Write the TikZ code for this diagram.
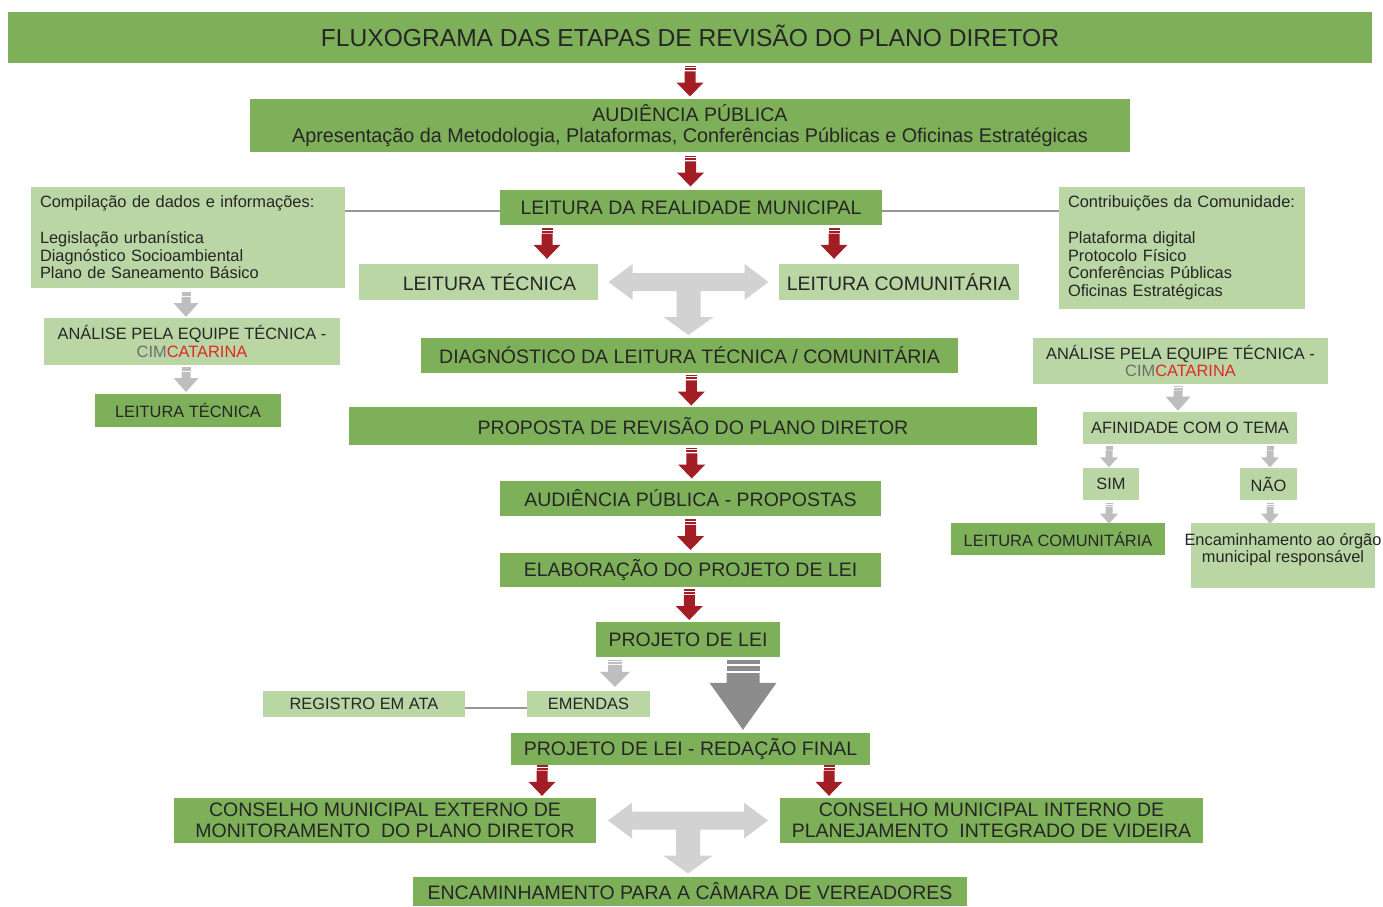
\documentclass[tikz,border=0pt]{standalone}
\usepackage{fontspec}
\setmainfont{Liberation Sans}
\usetikzlibrary{calc,positioning}

\definecolor{darkg}{RGB}{126,176,90}
\definecolor{lightg}{RGB}{186,214,164}
\definecolor{txtgray}{RGB}{38,38,38}
\definecolor{arrowred}{RGB}{163,29,36}
\definecolor{arrowgray}{RGB}{190,190,190}
\definecolor{biggray}{RGB}{140,140,140}
\definecolor{tgray}{RGB}{210,210,210}
\definecolor{linegray}{RGB}{150,150,150}
\definecolor{cimgray}{RGB}{110,110,110}
\definecolor{catred}{RGB}{225,40,40}

\newcommand{\titlefont}{\fontsize{24.6}{27}\selectfont}
\newcommand{\bigfont}{\fontsize{19.5}{21.5}\selectfont}
\newcommand{\smallfont}{\fontsize{16.4}{17.8}\selectfont}

\tikzstyle{box}=[rectangle,inner sep=0pt,text=txtgray,align=center,font=\bigfont]
\tikzstyle{dark}=[box,fill=darkg]
\tikzstyle{light}=[box,fill=lightg]
\tikzstyle{smalltext}=[font=\smallfont]
\tikzstyle{link}=[draw=linegray,line width=2.5pt]

\tikzset{
  pics/blockarr/.style n args={4}{code={
    \fill (-#1,-#4) rectangle (#1,{-0.88*#4}) ;
    \fill (-#1,{-0.81*#4}) rectangle (#1,{-0.69*#4}) ;
    \fill (-#1,{-0.62*#4}) -- (#1,{-0.62*#4}) -- (#1,{#4-#3}) -- (#2,{#4-#3}) -- (0,#4)
      -- (-#2,{#4-#3}) -- (-#1,{#4-#3}) -- cycle ;
  }},
  pics/redarrow/.style={code={\pic[color=arrowred] {blockarr={5.5}{13.5}{14}{15.5}};}},
  pics/grayarrow/.style={code={\pic[color=arrowgray] {blockarr={4.5}{12.5}{14}{12.5}};}},
  pics/tinyarrow/.style={code={\pic[color=arrowgray] {blockarr={3.5}{9}{10}{10.5}};}},
  pics/tarrow/.style={code={
    \fill[tgray] (-80,0) -- (-56,-18) -- (-56,-9) -- (56,-9) -- (56,-18) -- (80,0) -- (56,18)
      -- (56,9) -- (12,9) -- (12,35) -- (25,35) -- (0,53) -- (-25,35) -- (-12,35) -- (-12,9)
      -- (-56,9) -- (-56,18) -- cycle ;
  }}
}

\begin{document}
\begin{tikzpicture}[x=1pt,y=-1pt]
\useasboundingbox (0,0) rectangle (1383,906) ;

\node (title) [dark,font=\titlefont,text height=17.7pt,text depth=0pt,minimum width=1364,minimum height=51] at (690,37.5) {FLUXOGRAMA DAS ETAPAS DE REVISÃO DO PLANO DIRETOR} ;
\node (aud1) [dark,minimum width=880,minimum height=53] at (690,125.5) {AUDIÊNCIA PÚBLICA\\{\fontsize{19.8}{21.5}\selectfont Apresentação da Metodologia, Plataformas, Conferências Públicas e Oficinas Estratégicas}} ;
\node (real) [dark,minimum width=382,minimum height=35] at (691,207.5) {LEITURA DA REALIDADE MUNICIPAL} ;

\node (comp) [light,smalltext,align=left,text width=296,minimum width=314,minimum height=101] at (188,237.5) {Compilação de dados e informações:\\[17.8pt]Legislação urbanística\\Diagnóstico Socioambiental\\Plano de Saneamento Básico} ;
\node (contrib) [light,smalltext,align=left,text width=228,minimum width=246,minimum height=122] at (1182,248) {Contribuições da Comunidade:\\[17.8pt]Plataforma digital\\Protocolo Físico\\Conferências Públicas\\Oficinas Estratégicas} ;

\node (lt) [light,minimum width=239,minimum height=36] at (478.5,282) {\hspace*{22pt}LEITURA TÉCNICA} ;
\node (lc) [light,minimum width=240,minimum height=36] at (899,282) {LEITURA COMUNITÁRIA} ;
\node (diag) [dark,minimum width=537,minimum height=35] at (689.5,355.5) {DIAGNÓSTICO DA LEITURA TÉCNICA / COMUNITÁRIA} ;

% lado esquerdo
\node (anl) [light,smalltext,minimum width=296,minimum height=47] at (192,341.5) {ANÁLISE PELA EQUIPE TÉCNICA -\\{\color{cimgray}CIM}{\color{catred}CATARINA}} ;
\node (ltl) [dark,smalltext,minimum width=186,minimum height=33] at (188,410.5) {LEITURA TÉCNICA} ;

% lado direito
\node (anr) [light,smalltext,minimum width=295,minimum height=46] at (1180.5,361) {ANÁLISE PELA EQUIPE TÉCNICA -\\{\color{cimgray}CIM}{\color{catred}CATARINA}} ;
\node (af) [light,smalltext,minimum width=214,minimum height=32] at (1190,428) {AFINIDADE COM O TEMA} ;
\node (sim) [light,smalltext,minimum width=56,minimum height=32] at (1111,484) {SIM} ;
\node (nao) [light,smalltext,minimum width=57,minimum height=32] at (1268.5,484) {NÃO} ;
\node (lcr) [dark,smalltext,minimum width=214,minimum height=32] at (1058,539) {LEITURA COMUNITÁRIA} ;
\node (enc) [light,minimum width=184,minimum height=65,label={[anchor=north,yshift=-10,inner sep=0pt,align=center,font=\smallfont,text=txtgray]north:Encaminhamento ao órgão\\municipal responsável}] at (1283,555.5) {} ;

\node (prop) [dark,minimum width=688,minimum height=38] at (693,426) {PROPOSTA DE REVISÃO DO PLANO DIRETOR} ;
\node (aud2) [dark,minimum width=381,minimum height=35] at (690.5,498.5) {AUDIÊNCIA PÚBLICA - PROPOSTAS} ;
\node (elab) [dark,minimum width=381,minimum height=34] at (690.5,570) {ELABORAÇÃO DO PROJETO DE LEI} ;
\node (pl) [dark,minimum width=184,minimum height=35] at (688,639.5) {PROJETO DE LEI} ;
\node (em) [light,smalltext,minimum width=123,minimum height=26] at (588.5,704) {EMENDAS} ;
\node (reg) [light,smalltext,minimum width=202,minimum height=26] at (364,704) {REGISTRO EM ATA} ;
\node (plf) [dark,minimum width=359,minimum height=32] at (690.5,749) {PROJETO DE LEI - REDAÇÃO FINAL} ;
\node (cext) [dark,minimum width=422,minimum height=45] at (385,820.5) {CONSELHO MUNICIPAL EXTERNO DE\\MONITORAMENTO\ \ DO PLANO DIRETOR} ;
\node (cint) [dark,minimum width=423,minimum height=45] at (991.5,820.5) {CONSELHO MUNICIPAL INTERNO DE\\PLANEJAMENTO\ \ INTEGRADO DE VIDEIRA} ;
\node (cam) [dark,minimum width=554,minimum height=29] at (690,891.5) {ENCAMINHAMENTO PARA A CÂMARA DE VEREADORES} ;

% linhas
\draw [link] ([yshift=-3.5]real.west) -- ([yshift=-3.5]real.west -| comp.east) ;
\draw [link] ([yshift=-3.5]real.east) -- ([yshift=-3.5]real.east -| contrib.west) ;
\draw [link] ([yshift=-4]reg.east) -- ([yshift=-4]em.west) ;

% setas vermelhas
\path ($(title.south)!0.5!(aud1.north)$) pic {redarrow} ;
\path ($(aud1.south)!0.5!(real.north)$) pic {redarrow} ;
\path (lt.north) ++(68.5,-20.5) pic {redarrow} ;
\path (lc.north) ++(-65,-20.5) pic {redarrow} ;
\path ($(diag.south)!0.5!(prop.north)$) pic {redarrow} ;
\path ($(prop.south)!0.5!(aud2.north)$) pic {redarrow} ;
\path ($(aud2.south)!0.5!(elab.north)$) pic {redarrow} ;
\path ($(elab.south)!0.5!(pl.north)$) pic {redarrow} ;
\path (cext.north) ++(157,-17.5) pic {redarrow} ;
\path (cint.north) ++(-162.5,-17.5) pic {redarrow} ;

% setas cinzas
\path ($(lt.east)!0.5!(lc.west)$) pic {tarrow} ;
\path ($(cext.east)!0.5!(cint.west)$) pic {tarrow} ;
\path ($(comp.south)!0.5!(anl.north)$) ++(-4,1.5) pic {grayarrow} ;
\path ($(anl.south)!0.5!(ltl.north)$) ++(-4,0) pic {grayarrow} ;
\path (anr.south) ++(-2.5,14) pic {grayarrow} ;
\path (sim.north) ++(-2,-11) pic {tinyarrow} ;
\path (nao.north) ++(1.5,-11) pic {tinyarrow} ;
\path (sim.south) ++(-2,13) pic {tinyarrow} ;
\path (nao.south) ++(1.5,13) pic {tinyarrow} ;
\path (em.north) ++(26.5,-17.5) pic [color=arrowgray] {blockarr={7}{15}{15}{13.5}} ;
\path (plf.north) ++(52.5,-38) pic [color=biggray] {blockarr={16.5}{33.5}{47}{35}} ;

\end{tikzpicture}
\end{document}
